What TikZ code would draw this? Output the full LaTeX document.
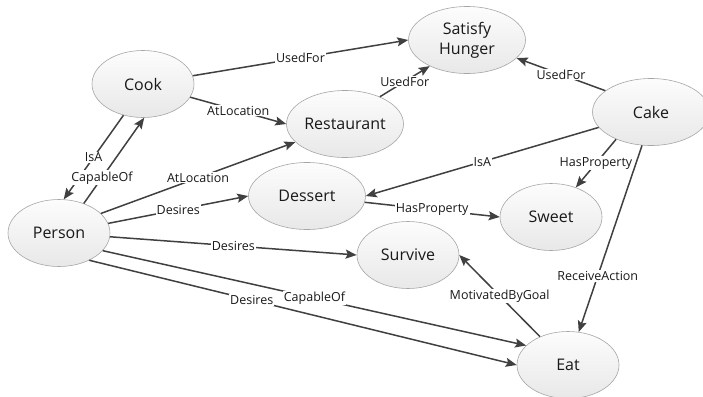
\documentclass[tikz,border=0pt]{standalone}
\usepackage{fontspec}
\setmainfont{Open Sans}
\usetikzlibrary{shapes.geometric,arrows.meta}
\begin{document}
\begin{tikzpicture}[x=1pt,y=-1pt,
  concept/.style={ellipse,draw=black!35,line width=.6pt,top color=white!99!black,bottom color=white!91!black,
    inner sep=0pt,minimum width=102pt,minimum height=67pt,align=center,
    font=\fontsize{16}{20}\selectfont,text=black!90},
  wide/.style={minimum width=117pt},
  rel/.style={draw=black!75,line width=1.5pt,-{Stealth[length=11pt,width=9pt,inset=2pt]}},
  lbl/.style={fill=white,inner sep=1pt,font=\fontsize{12.5}{14}\selectfont,text=black!90}]
\useasboundingbox (0,0) rectangle (703,396);
% concepts
\node[concept,wide] (hunger) at (467,40) {Satisfy\\Hunger};
\node[concept] (cook) at (143,84) {Cook};
\node[concept,wide] (rest) at (345,124) {Restaurant};
\node[concept,wide] (cake) at (651,112) {Cake};
\node[concept,wide] (dessert) at (307,196) {Dessert};
\node[concept] (sweet) at (551,217) {Sweet};
\node[concept] (person) at (59,233) {Person};
\node[concept] (survive) at (408,255) {Survive};
\node[concept] (eat) at (568,365) {Eat};
% relations
\draw[rel] (cook) -- node[lbl] {UsedFor} (hunger.west);
\draw[rel] (cook) -- node[lbl] {AtLocation} (rest.west);
\draw[rel] (rest.38) -- node[lbl] {UsedFor} (hunger.215);
\draw[rel] (cake.155) -- node[lbl] {UsedFor} (hunger.340);
\draw[rel] (cake) -- node[lbl] {IsA} (dessert.east);
\draw[rel] (cake.218) -- node[lbl] {HasProperty} (sweet.50);
\draw[rel] (cake.255) -- node[lbl,pos=.7] {ReceiveAction} (eat.72);
\draw[rel] (dessert) -- node[lbl] {HasProperty} (sweet.west);
\draw[rel] (cook.238) -- node[lbl] {IsA} (person.82);
\draw[rel] (person.50) -- node[lbl,pos=.3] {CapableOf} (cook.272);
\draw[rel] (person.25) -- node[lbl] {AtLocation} (rest.200);
\draw[rel] (person) -- node[lbl] {Desires} (dessert.west);
\draw[rel] (person) -- node[lbl] {Desires} (survive.west);
\draw[rel] (person.338) -- node[lbl] {CapableOf} (eat.155);
\draw[rel] (person.318) -- node[lbl,pos=.38] {Desires} (eat.west);
\draw[rel] (eat) -- node[lbl] {MotivatedByGoal} (survive.east);
\end{tikzpicture}
\end{document}
